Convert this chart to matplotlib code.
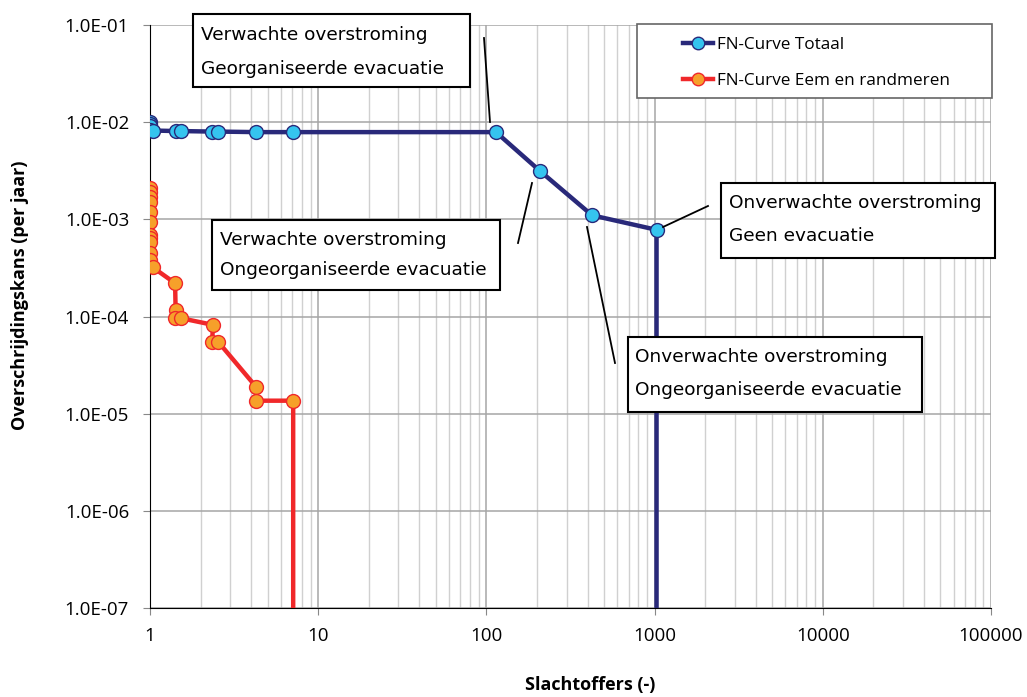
import matplotlib.pyplot as plt
from matplotlib.patches import Rectangle
from matplotlib.lines import Line2D
from matplotlib.ticker import FixedLocator, LogLocator, FuncFormatter, NullFormatter

# FN-curve totaal (slachtoffers, overschrijdingskans)
n_totaal = [1, 1, 1, 1, 1.04, 1.43, 1.53, 2.34, 2.54, 4.27, 7.1, 114, 208, 425, 1027]
p_totaal = [1.0e-2, 9.6e-3, 9.2e-3, 8.4e-3, 8.2e-3, 8.1e-3, 8.1e-3, 8.0e-3, 8.0e-3,
            7.9e-3, 7.9e-3, 7.9e-3, 3.15e-3, 1.1e-3, 7.8e-4]

# FN-curve Eem en randmeren
n_eem = [1, 1, 1, 1, 1, 1, 1, 1, 1, 1, 1, 1.04, 1.41, 1.42, 1.41, 1.53,
         2.37, 2.34, 2.54, 4.27, 4.27, 7.1]
p_eem = [2.1e-3, 1.91e-3, 1.7e-3, 1.51e-3, 1.19e-3, 9.4e-4, 6.9e-4, 6.4e-4,
         5.8e-4, 4.5e-4, 3.8e-4, 3.2e-4, 2.2e-4, 1.17e-4, 9.7e-5, 9.6e-5,
         8.2e-5, 5.5e-5, 5.5e-5, 1.89e-5, 1.36e-5, 1.36e-5]

ytick_vals = [1e-7, 1e-6, 1e-5, 1e-4, 1e-3, 1e-2, 1e-1]
xtick_vals = [1, 10, 100, 1000, 10000, 100000]

plt.rcParams['font.family'] = ['Open Sans', 'DejaVu Sans']

W, H = 1027, 697
fig = plt.figure(figsize=(W / 100, H / 100), dpi=100)
ax = fig.add_axes([150 / W, 1 - 608 / H, (991 - 150) / W, (608 - 25) / H])

navy = '#29297a'
cyan = '#35c4ef'
red = '#f0282a'
orange = '#f6a02a'

ax.plot(n_totaal + [n_totaal[-1]], p_totaal + [1e-9], color=navy, lw=3.2,
        marker='o', ms=10, mfc=cyan, mec=navy, mew=1,
        markevery=list(range(len(n_totaal))), label='FN-Curve Totaal', zorder=4)
ax.plot(n_eem + [n_eem[-1]], p_eem + [1e-9], color=red, lw=3.2,
        marker='o', ms=10, mfc=orange, mec=red, mew=1,
        markevery=list(range(len(n_eem))), label='FN-Curve Eem en randmeren', zorder=3)

ax.set_xscale('log')
ax.set_yscale('log')
ax.set_xlim(1, 100000)
ax.set_ylim(1e-7, 1e-1)

ax.xaxis.set_major_locator(FixedLocator(xtick_vals))
ax.xaxis.set_major_formatter(FuncFormatter(lambda v, p: f'{v:.0f}'))
ax.xaxis.set_minor_locator(LogLocator(base=10, subs=range(2, 10), numticks=20))
ax.xaxis.set_minor_formatter(NullFormatter())
ax.yaxis.set_major_locator(FixedLocator(ytick_vals))
ax.yaxis.set_major_formatter(FuncFormatter(lambda v, p: f'{v:.1E}'))
ax.yaxis.set_minor_locator(FixedLocator([]))

ax.grid(True, which='major', axis='both', color='#a6a6a6', lw=1.1, zorder=0)
ax.grid(True, which='minor', axis='x', color='#d0d0d0', lw=1.0, zorder=0)
ax.set_axisbelow(True)
for s in ['top', 'right']:
    ax.spines[s].set_visible(False)
ax.tick_params(axis='both', which='major', length=5, color='#888888', labelsize=13.5)
ax.tick_params(axis='y', which='major', pad=10)
ax.tick_params(axis='x', which='major', pad=9)
ax.tick_params(axis='x', which='minor', length=0)

fig.text(590 / W, 1 - 685 / H, 'Slachtoffers (-)', ha='center', va='center',
         fontsize=13, fontweight='bold')
fig.text(20 / W, 1 - 295 / H, 'Overschrijdingskans (per jaar)', ha='center', va='center',
         rotation=90, fontsize=13, fontweight='bold')

# legenda: kader los getekend, zoals in Excel
frame = Rectangle((637 / W, 1 - 98 / H), (992 - 637) / W, (98 - 24) / H,
                  transform=fig.transFigure, fc='white', ec='#666666',
                  lw=1.2, zorder=5, clip_on=False)
ax.add_patch(frame)
leg = ax.legend(loc='upper left', bbox_to_anchor=(678 / W, 1 - 32 / H),
                bbox_transform=fig.transFigure, frameon=False,
                fontsize=12.3, handlelength=1.75, labelspacing=1.15,
                borderpad=0.3, handletextpad=0.25, borderaxespad=0)
leg.set_zorder(6)
for h in leg.legend_handles:
    h.set_markersize(9)

def px(x, y):
    return x / W, 1 - y / H

boxes = [
    ((193, 14, 470, 87), (201, 35, 69), ('Verwachte overstroming', 'Georganiseerde evacuatie')),
    ((212, 220, 500, 290), (220, 240, 270), ('Verwachte overstroming', 'Ongeorganiseerde evacuatie')),
    ((721, 183, 995, 258), (729, 203, 236), ('Onverwachte overstroming', 'Geen evacuatie')),
    ((628, 337, 922, 412), (635, 357, 390), ('Onverwachte overstroming', 'Ongeorganiseerde evacuatie')),
]
for (x0, y0, x1, y1), (tx, ty1, ty2), (l1, l2) in boxes:
    fig.patches.append(Rectangle(px(x0, y1), (x1 - x0) / W, (y1 - y0) / H,
                                 transform=fig.transFigure, fc='white', ec='black',
                                 lw=1.5, zorder=10))
    for ty, txt in ((ty1, l1), (ty2, l2)):
        fig.text(*px(tx, ty), txt, ha='left', va='center', fontsize=13.3,
                 family='DejaVu Sans', zorder=11)

leaders = [((484, 38), (490, 122)), ((532, 183), (518, 243)),
           ((587, 227), (615, 363)), ((663, 227), (708, 206))]
for (xa, ya), (xb, yb) in leaders:
    fig.lines.append(Line2D([xa / W, xb / W], [1 - ya / H, 1 - yb / H],
                            transform=fig.transFigure, color='black', lw=1.3, zorder=9))

fig.savefig('out.png', dpi=100)
